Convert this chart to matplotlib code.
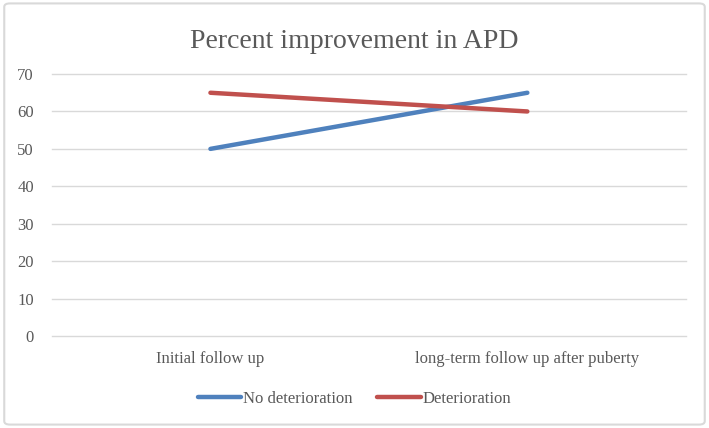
import matplotlib.pyplot as plt
from matplotlib.patches import FancyBboxPatch

# data
categories = ['Initial follow up', 'long-term follow up after puberty']
no_det = [50, 65]
det = [65, 60]

plt.rcParams['font.family'] = ['Liberation Serif', 'DejaVu Serif']

fig = plt.figure(figsize=(7.09, 4.28), dpi=100)
ax = fig.add_axes([0.0733, 0.215, 0.894, 0.612])

x = range(len(categories))
ax.plot(x, no_det, color='#4F81BD', lw=3.2, solid_capstyle='round', label='No deterioration')
ax.plot(x, det, color='#C0504D', lw=3.2, solid_capstyle='round', label='Deterioration')

ax.set_xlim(-0.5, 1.5)
ax.set_ylim(0, 70)
ax.set_yticks(range(0, 71, 10))
ax.set_xticks(list(x))
ax.set_xticklabels(categories)
ax.grid(axis='y', color='#D9D9D9', lw=1)
for gl in ax.get_ygridlines():
    gl.set_clip_on(False)
ax.set_axisbelow(True)
for s in ax.spines.values():
    s.set_visible(False)
ax.tick_params(length=0, labelsize=12, labelcolor='#595959')
ax.tick_params(axis='x', pad=11)
ax.tick_params(axis='y', pad=13)

fig.text(0.5, 0.903, 'Percent improvement in APD', ha='center', va='center',
         fontsize=20, color='#595959')

fig.legend(loc='center', bbox_to_anchor=(0.5, 0.068), ncol=2, frameon=False,
           fontsize=12, labelcolor='#595959', handlelength=2.6, handletextpad=0.1,
           columnspacing=1.5)

# chart border
border = FancyBboxPatch((0.006, 0.008), 0.988, 0.984, boxstyle='round,pad=0,rounding_size=0.008',
                        transform=fig.transFigure, fill=False, ec='#D9D9D9', lw=1.5)
fig.patches.append(border)

fig.savefig('out.png', dpi=100)
